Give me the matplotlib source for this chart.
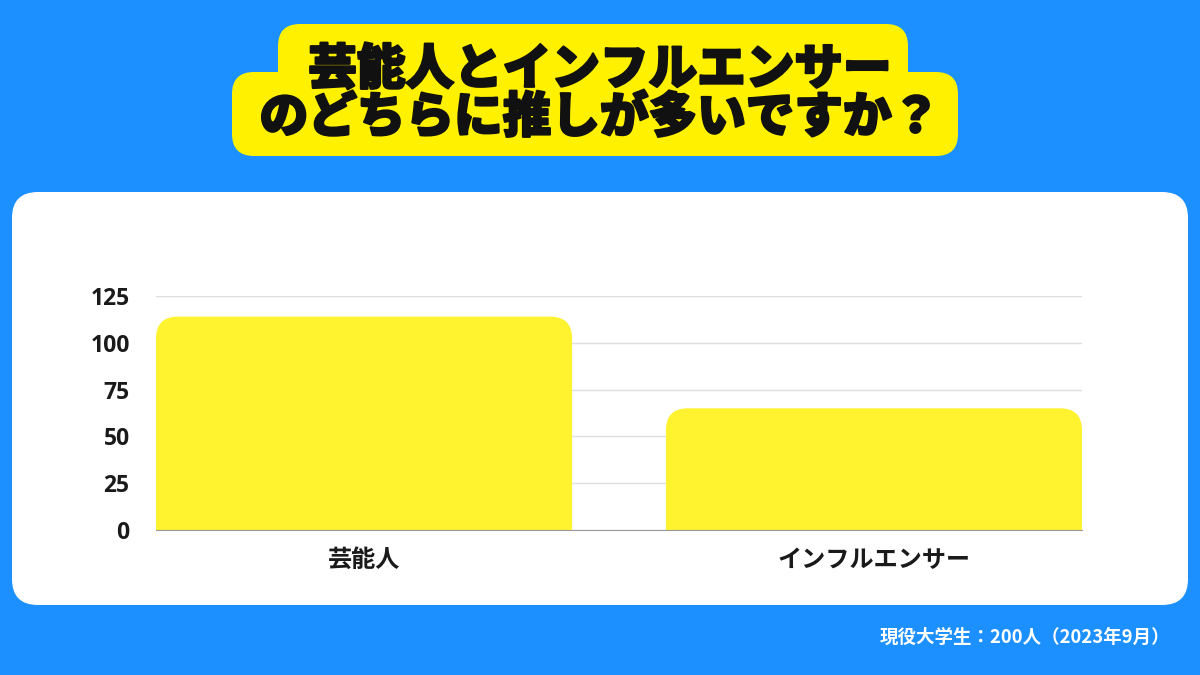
# -*- coding: utf-8 -*-
import numpy as np
import matplotlib
matplotlib.use('Agg')
import matplotlib.pyplot as plt
import matplotlib.patheffects as pe
from matplotlib.patches import FancyBboxPatch, PathPatch
from matplotlib.path import Path

plt.rcParams['font.family'] = ['Noto Sans CJK JP', 'DejaVu Sans']

#-------------------------------------------------------
# Dados
categorias = ['芸能人', 'インフルエンサー']
valores = [114, 65]
yticks = [0, 25, 50, 75, 100, 125]
titulo = ['芸能人とインフルエンサー', 'のどちらに推しが多いですか？']
rodape = '現役大学生：200人（2023年9月）'

azul = '#1C90FF'
amarelo_titulo = '#FFF100'
amarelo_barra = '#FFF22E'

#-------------------------------------------------------
fig = plt.figure(figsize=(12, 6.75), dpi=100)
fig.patch.set_facecolor(azul)

# eixo de fundo em pixels (0..1200, 0..675, y para baixo)
bg = fig.add_axes([0, 0, 1, 1])
bg.set_xlim(0, 1200)
bg.set_ylim(675, 0)
bg.axis('off')

# painel branco
bg.add_patch(FancyBboxPatch((12, 192), 1176, 413, boxstyle='round,pad=0,rounding_size=26',
                            fc='white', ec='none'))

# caixa amarela do título
bg.add_patch(FancyBboxPatch((278, 24), 630, 80, boxstyle='round,pad=0,rounding_size=22',
                            fc=amarelo_titulo, ec='none'))
bg.add_patch(FancyBboxPatch((232, 72), 726, 84, boxstyle='round,pad=0,rounding_size=22',
                            fc=amarelo_titulo, ec='none'))
efeito = [pe.withStroke(linewidth=1.6, foreground='#111111')]
bg.text(600, 70, titulo[0], ha='center', va='center', fontsize=35, fontweight='black',
        color='#111111', path_effects=efeito)
bg.text(600, 118, titulo[1], ha='center', va='center', fontsize=35, fontweight='black',
        color='#111111', path_effects=efeito)

# rodapé
bg.text(1170, 637, rodape, ha='right', va='center', fontsize=13.3, fontweight='bold', color='white')

#-------------------------------------------------------
# gráfico de barras
ax = fig.add_axes([156/1200, 1 - 530/675, (1082 - 156)/1200, (530 - 296)/675])
ax.patch.set_alpha(0)
x = np.arange(len(categorias))
barras = ax.bar(x, valores, width=0.816, color='none')
ax.set_xlim(-0.408, 1.408)
ax.set_ylim(0, 125)
ax.set_yticks(yticks)
ax.set_yticklabels([str(v) for v in yticks], fontsize=16.5, fontweight='bold', color='#1a1a1a',
                   family=['Open Sans', 'DejaVu Sans'])
ax.set_xticks(x)
ax.set_xticklabels(categorias, fontsize=17.4, fontweight='bold', color='#1a1a1a')
ax.tick_params(axis='both', length=0)
ax.tick_params(axis='y', pad=19)
ax.tick_params(axis='x', pad=13)
ax.grid(axis='y', color='#dedede', lw=1)
ax.set_axisbelow(True)
for s in ['top', 'right', 'left']:
    ax.spines[s].set_visible(False)
ax.spines['bottom'].set_color('#9a9a9a')
ax.spines['bottom'].set_zorder(5)

# barras com cantos superiores arredondados (em pixels)
r = 22
for b in barras:
    (x0, y0), (x1, y1) = ax.transData.transform([(b.get_x(), 0), (b.get_x() + b.get_width(), b.get_height())])
    verts = [(x0, y0), (x0, y1 - r), (x0, y1), (x0 + r, y1), (x1 - r, y1), (x1, y1), (x1, y1 - r),
             (x1, y0), (x0, y0)]
    codes = [Path.MOVETO, Path.LINETO, Path.CURVE3, Path.CURVE3, Path.LINETO, Path.CURVE3, Path.CURVE3,
             Path.LINETO, Path.CLOSEPOLY]
    p = PathPatch(Path(verts, codes), fc=amarelo_barra, ec='none', transform=None, zorder=3)
    ax.add_artist(p)

fig.savefig('out.png', dpi=100, facecolor=fig.get_facecolor())
